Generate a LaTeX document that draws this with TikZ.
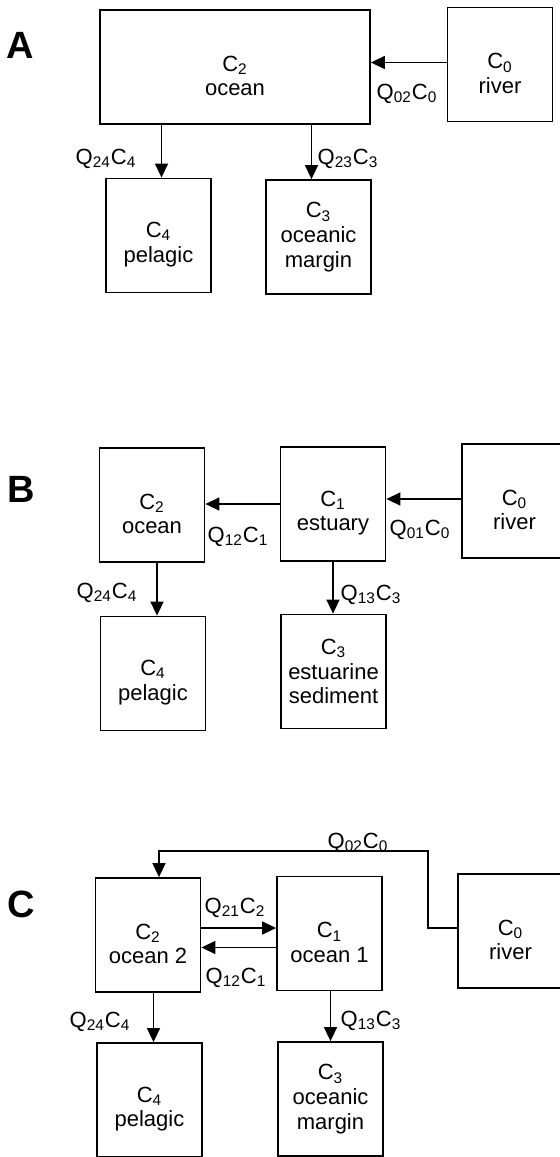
\documentclass[tikz,border=0pt]{standalone}
\usepackage{fontspec}
\setmainfont{Liberation Sans}
\usetikzlibrary{arrows.meta,positioning}
\tikzset{
  poolbox/.style={draw, line width=0.9pt, minimum width=52.5pt, minimum height=57pt, inner sep=1pt, align=center, font=\fontsize{11}{12.3}\selectfont, execute at begin node={\rule{0pt}{29pt}}},
  widebox/.style={poolbox, minimum width=135pt},
  fluxarrow/.style={-{Triangle[length=7pt,width=6.5pt]}, line width=0.75pt},
  fluxlabel/.style={font=\fontsize{11}{12}\selectfont, inner sep=0pt},
  panelmark/.style={font=\fontsize{19}{19}\selectfont\bfseries, inner sep=0pt},
}

\begin{document}
\begin{tikzpicture}[x=0.5pt, y=-0.5pt]
  \useasboundingbox (0,0) rectangle (560,1157);

  % Panel A: river straight into the ocean
  \node[panelmark] (markA) at (20,45) {A};
  \node[widebox] (oceanA) at (235,67) {C\textsubscript{2}\\ocean};
  \node[poolbox] (riverA) at (500,64.5) {C\textsubscript{0}\\river};
  \node[poolbox] (pelagicA) at (158.5,235.5) {C\textsubscript{4}\\pelagic};
  \node[poolbox] (marginA) at (318.5,237) {C\textsubscript{3}\\oceanic\\margin};
  \draw[fluxarrow] ([yshift=1pt]riverA.west) -- ([yshift=1pt]riverA.west -| oceanA.east);
  \draw[fluxarrow] ([xshift=1.5pt]pelagicA.north |- oceanA.south) -- ([xshift=1.5pt]pelagicA.north);
  \draw[fluxarrow] ([xshift=-3.5pt]marginA.north |- oceanA.south) -- ([xshift=-3.5pt]marginA.north);
  \node[fluxlabel] (qA02) at (407,94) {Q\textsubscript{02}C\textsubscript{0}};
  \node[fluxlabel] (qA24) at (106,159) {Q\textsubscript{24}C\textsubscript{4}};
  \node[fluxlabel] (qA23) at (348,159) {Q\textsubscript{23}C\textsubscript{3}};

  % Panel B: river through the estuary
  \node[panelmark] (markB) at (21,489) {B};
  \node[poolbox] (oceanB) at (152,505) {C\textsubscript{2}\\ocean};
  \node[poolbox] (estuaryB) at (333,504) {C\textsubscript{1}\\estuary};
  \node[poolbox] (riverB) at (514.5,501) {C\textsubscript{0}\\river};
  \node[poolbox] (pelagicB) at (153,673.5) {C\textsubscript{4}\\pelagic};
  \node[poolbox] (sedimentB) at (333.5,671.5) {C\textsubscript{3}\\estuarine\\sediment};
  \draw[fluxarrow] ([yshift=1pt]riverB.west) -- ([yshift=1pt]riverB.west -| estuaryB.east);
  \draw[fluxarrow] (estuaryB.west) -- (estuaryB.west -| oceanB.east);
  \draw[fluxarrow] ([xshift=2pt]pelagicB.north |- oceanB.south) -- ([xshift=2pt]pelagicB.north);
  \draw[fluxarrow] (estuaryB.south) -- (estuaryB.south |- sedimentB.north);
  \node[fluxlabel] (qB12) at (238,537) {Q\textsubscript{12}C\textsubscript{1}};
  \node[fluxlabel] (qB01) at (420,530) {Q\textsubscript{01}C\textsubscript{0}};
  \node[fluxlabel] (qB24) at (107,593) {Q\textsubscript{24}C\textsubscript{4}};
  \node[fluxlabel] (qB13) at (371,595) {Q\textsubscript{13}C\textsubscript{3}};

  % Panel C: two ocean pools, river bypasses ocean 1
  \node[panelmark] (markC) at (21,904) {C};
  \node[poolbox] (ocean2C) at (148,935) {C\textsubscript{2}\\ocean 2};
  \node[poolbox] (ocean1C) at (329.5,933.5) {C\textsubscript{1}\\ocean 1};
  \node[poolbox] (riverC) at (510.5,931) {C\textsubscript{0}\\river};
  \node[poolbox] (pelagicC) at (149.5,1100) {C\textsubscript{4}\\pelagic};
  \node[poolbox] (marginC) at (330.5,1099) {C\textsubscript{3}\\oceanic\\margin};
  \coordinate (bendC) at (428,851);
  \draw[fluxarrow] ([yshift=1.5pt]riverC.west) -| (bendC) -| ([xshift=5.5pt]ocean2C.north);
  \draw[fluxarrow] ([yshift=3.5pt]ocean2C.east) -- ([yshift=3.5pt]ocean2C.east -| ocean1C.west);
  \draw[fluxarrow] ([yshift=-7pt]ocean1C.west) -- ([yshift=-7pt]ocean1C.west -| ocean2C.east);
  \draw[fluxarrow] ([xshift=2pt]pelagicC.north |- ocean2C.south) -- ([xshift=2pt]pelagicC.north);
  \draw[fluxarrow] (marginC.north |- ocean1C.south) -- (marginC.north);
  \node[fluxlabel] (qC02) at (358,843) {Q\textsubscript{02}C\textsubscript{0}};
  \node[fluxlabel] (qC21) at (235,908) {Q\textsubscript{21}C\textsubscript{2}};
  \node[fluxlabel] (qC12) at (236,978) {Q\textsubscript{12}C\textsubscript{1}};
  \node[fluxlabel] (qC24) at (100,1022) {Q\textsubscript{24}C\textsubscript{4}};
  \node[fluxlabel] (qC13) at (371,1021) {Q\textsubscript{13}C\textsubscript{3}};
\end{tikzpicture}
\end{document}
